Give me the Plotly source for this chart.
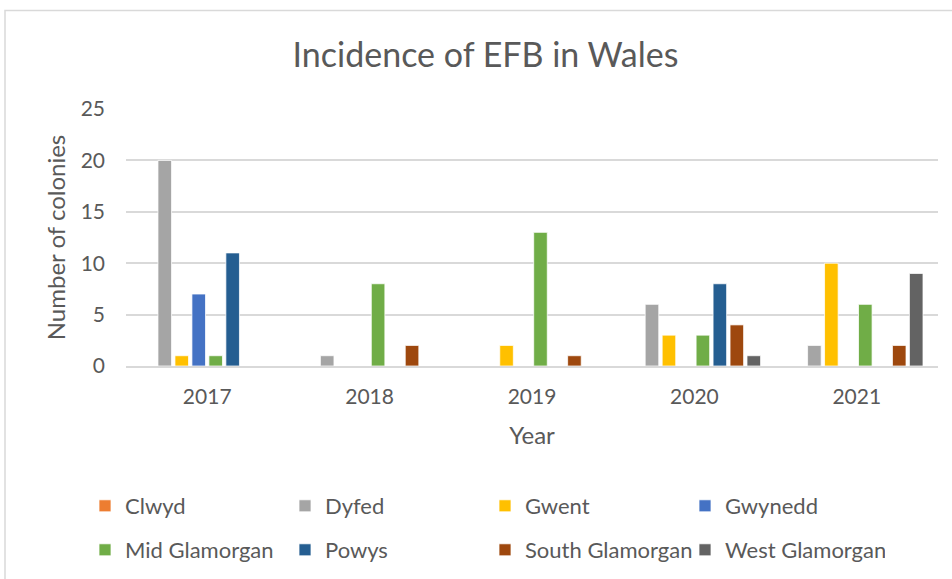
import plotly.graph_objects as go

years = ["2017", "2018", "2019", "2020", "2021"]
series_names = ["Clwyd", "Dyfed", "Gwent", "Gwynedd",
                "Mid Glamorgan", "Powys", "South Glamorgan", "West Glamorgan"]
clwyd = [0, 0, 0, 0, 0]
dyfed = [20, 1, 0, 6, 2]
gwent = [1, 0, 2, 3, 10]
gwynedd = [7, 0, 0, 0, 0]
mid_glamorgan = [1, 8, 13, 3, 6]
powys = [11, 0, 0, 8, 0]
south_glamorgan = [0, 2, 1, 4, 2]
west_glamorgan = [0, 0, 0, 1, 9]
series_values = [clwyd, dyfed, gwent, gwynedd, mid_glamorgan, powys,
                 south_glamorgan, west_glamorgan]
colors = ["#ED7D31", "#A5A5A5", "#FFC000", "#4472C4",
          "#70AD47", "#255E91", "#9E480E", "#636363"]

FONT = "Lato"
TXT = "#595959"

fig = go.Figure()
for i, (name, vals, col) in enumerate(zip(series_names, series_values, colors)):
    fig.add_trace(go.Bar(
        x=years, y=vals, name=name,
        marker=dict(color=col, line=dict(color="white", width=0.75)),
        legend="legend" if i < 4 else "legend2",
    ))

W, H = 952, 579
L, R, T, B = 126, 14, 109, 213
pw, ph = W - L - R, H - T - B

def px2x(px):
    return (px - L) / pw

def py2y(py):
    return (H - B - py) / ph

legend_common = dict(
    orientation="h", entrywidth=155, entrywidthmode="pixels",
    font=dict(family=FONT, size=22, color=TXT),
    xanchor="left", yanchor="middle", bgcolor="rgba(0,0,0,0)",
    itemclick=False,
)

fig.update_layout(
    width=W, height=H,
    margin=dict(l=L, r=R, t=T, b=B, autoexpand=False),
    paper_bgcolor="white", plot_bgcolor="white",
    barmode="group", bargap=0.164, bargroupgap=0.2,
    title=dict(text="Incidence of EFB in Wales", x=0.51, xref="container",
               xanchor="center", y=1 - 55 / H, yref="container", yanchor="middle",
               font=dict(family=FONT, size=34, color=TXT)),
    font=dict(family=FONT, color=TXT),
    legend=dict(x=px2x(85), y=py2y(506), **legend_common),
    legend2=dict(x=px2x(85), y=py2y(550), **legend_common),
    xaxis=dict(
        type="category", showgrid=False, showline=True, linecolor="#D9D9D9",
        linewidth=1.5, ticks="", tickfont=dict(family=FONT, size=21, color=TXT),
        ticklabelstandoff=11,
        title=dict(text="Year", font=dict(family=FONT, size=24, color=TXT), standoff=20),
    ),
    yaxis=dict(
        range=[0, 25], dtick=5, showgrid=True, gridcolor="#D9D9D9", gridwidth=1.5,
        zeroline=False, showline=False, ticks="",
        tickfont=dict(family=FONT, size=21, color=TXT), ticklabelstandoff=20,
        title=dict(text="Number of colonies", font=dict(family=FONT, size=24, color=TXT),
                   standoff=8),
    ),
    shapes=[dict(type="rect", xref="paper", yref="paper",
                 x0=px2x(5), x1=px2x(965), y0=py2y(600), y1=py2y(10.5),
                 line=dict(color="#D9D9D9", width=1.5), fillcolor="rgba(0,0,0,0)",
                 layer="below")],
)

fig.write_html("out.html", config={"displayModeBar": False},
               post_script="document.body.style.margin='0';")
